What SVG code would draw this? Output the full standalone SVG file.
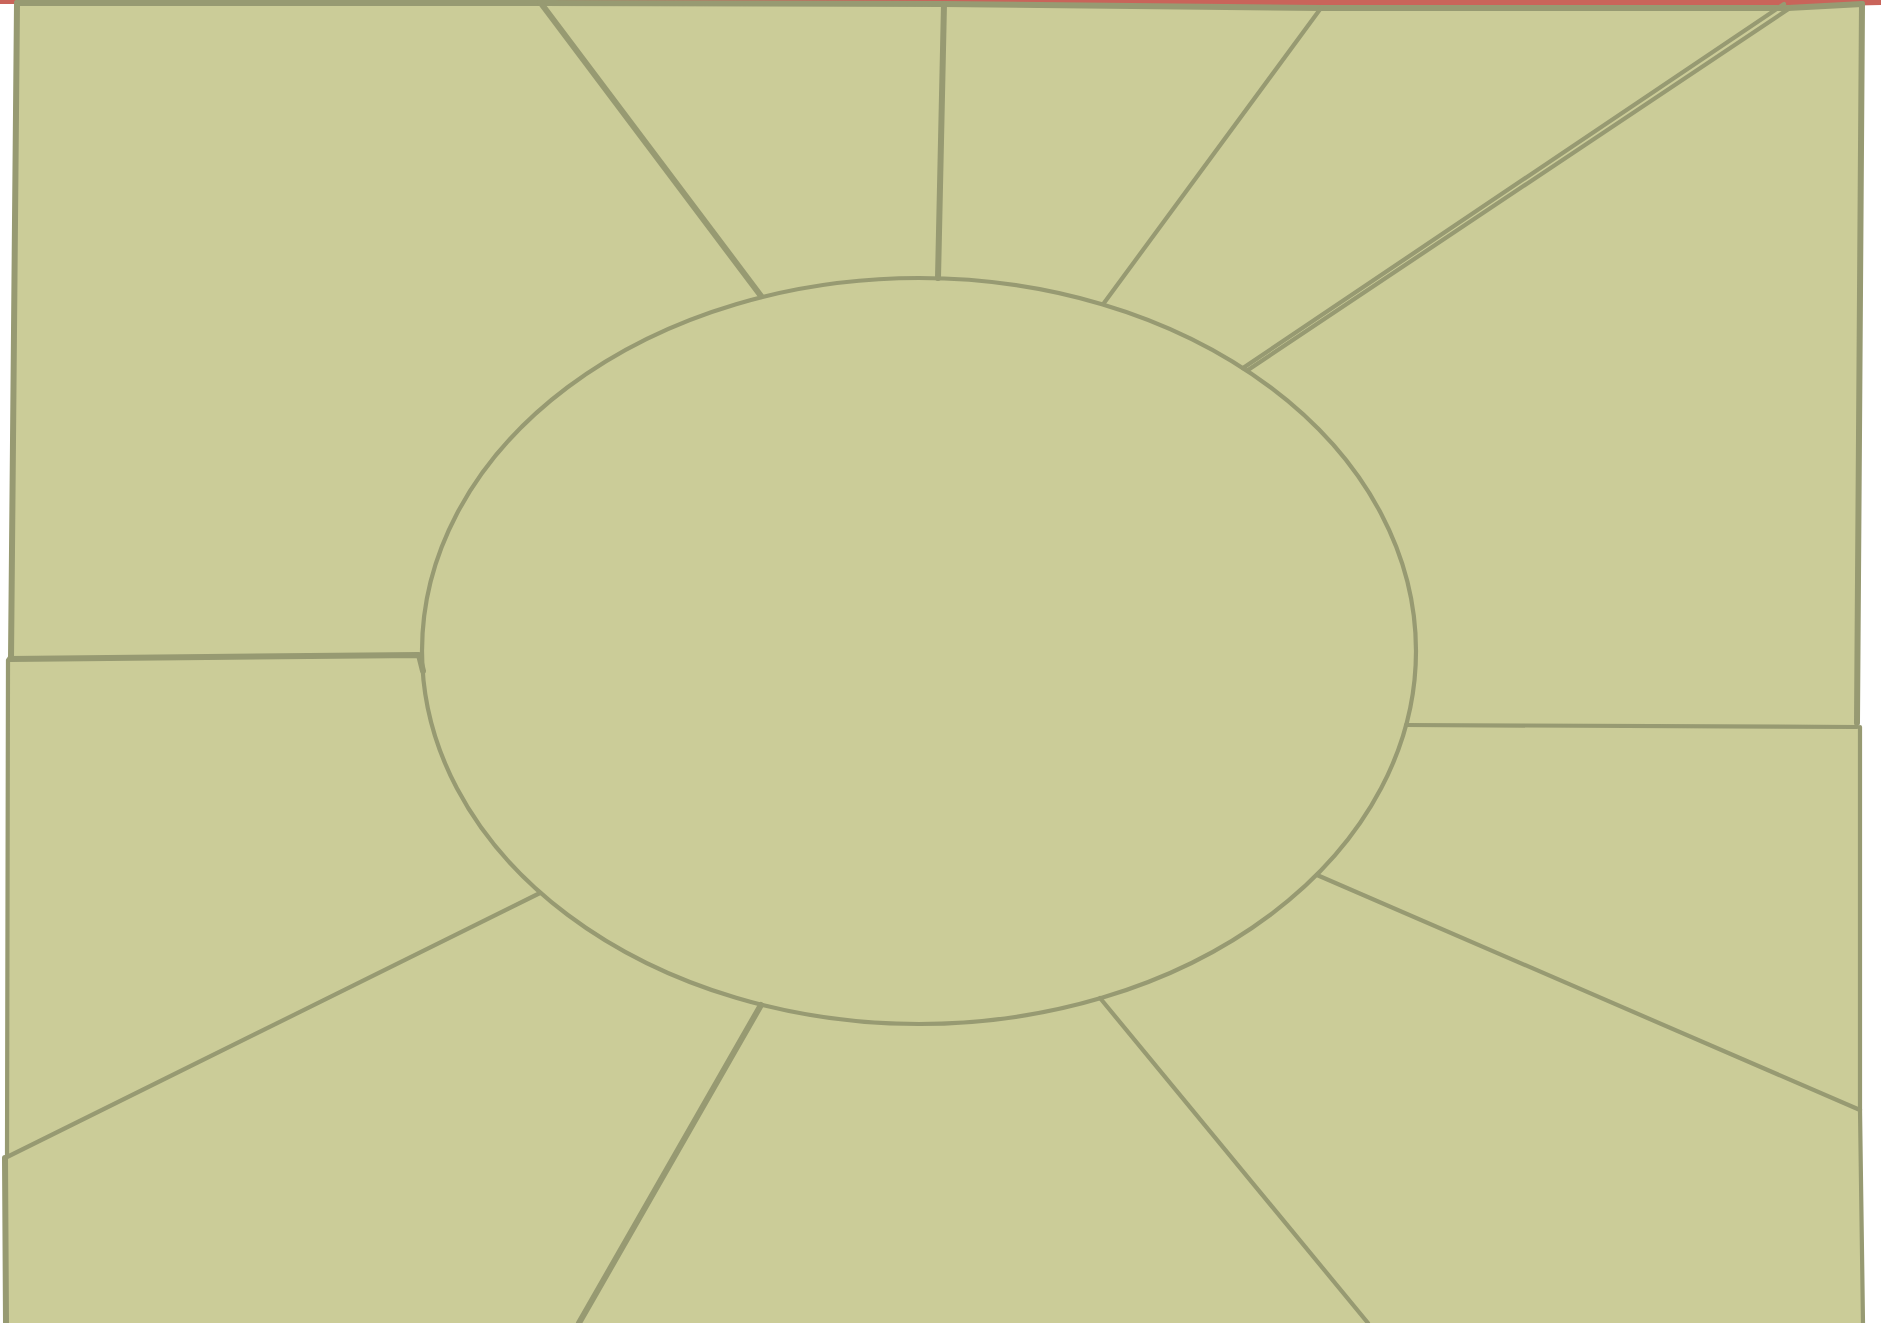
<svg xmlns="http://www.w3.org/2000/svg" width="1881" height="1323" viewBox="0 0 1881 1323">
  <style>
    .ln { stroke: #979A72; fill: none; stroke-linecap: round; stroke-linejoin: round; }
    .t3 { stroke-width: 4.2; }
    .t5 { stroke-width: 6; }
  </style>
  <rect x="0" y="0" width="1881" height="1323" fill="#ffffff"/>
  <g id="top-edge">
    <path d="M0 0 H1881 V5 L1790 7 L1320 6 L540 3 L0 4 Z" fill="#C9645A"/>
  </g>
  <g id="plot">
    <path d="M17 3 L540 3 L944 4 L1321 8 L1788 8 L1862 4 L1857 723 L1860 727 L1860 1110 L1863 1323 L6 1323 L5 1158 L8 1155 L8 660 L11 659 Z" fill="#CBCC98"/>
  </g>
  <g id="boundary">
    <path class="ln t5" d="M17 3 L540 3 L944 4 L1321 8 L1788 8 L1862 4"/>
    <path class="ln t5" d="M17 3 L11 659"/>
    <path class="ln t3" d="M8 660 L7 1155"/>
    <path class="ln t5" d="M5 1158 L6 1323"/>
    <path class="ln t5" d="M1862 4 L1857 723"/>
    <path class="ln t3" d="M1860 727 L1860 1110 L1863 1323"/>
  </g>
  <g id="connectors">
    <path class="ln t5" d="M540 2 L761 296"/>
    <path class="ln t5" d="M944 4 L938 278"/>
    <path class="ln t3" d="M1321 8 L1104 303"/>
    <path class="ln t3" d="M1784 4 L1243 368"/>
    <path class="ln t3" d="M1790 8 L1248 370"/>
    <path class="ln t3" d="M1406 725 L1857 727"/>
    <path class="ln t3" d="M1317 875 L1860 1110"/>
    <path class="ln t3" d="M1100 998 L1368 1323"/>
    <path class="ln t5" d="M761 1005 L579 1323"/>
    <path class="ln t3" d="M540 893 L5 1158"/>
    <path class="ln t5" d="M10 659 L419 655 L423 671"/>
  </g>
  <g id="ellipse">
    <ellipse cx="919" cy="651" rx="497" ry="373" fill="#CBCC98" class="ln t3"/>
  </g>
</svg>
